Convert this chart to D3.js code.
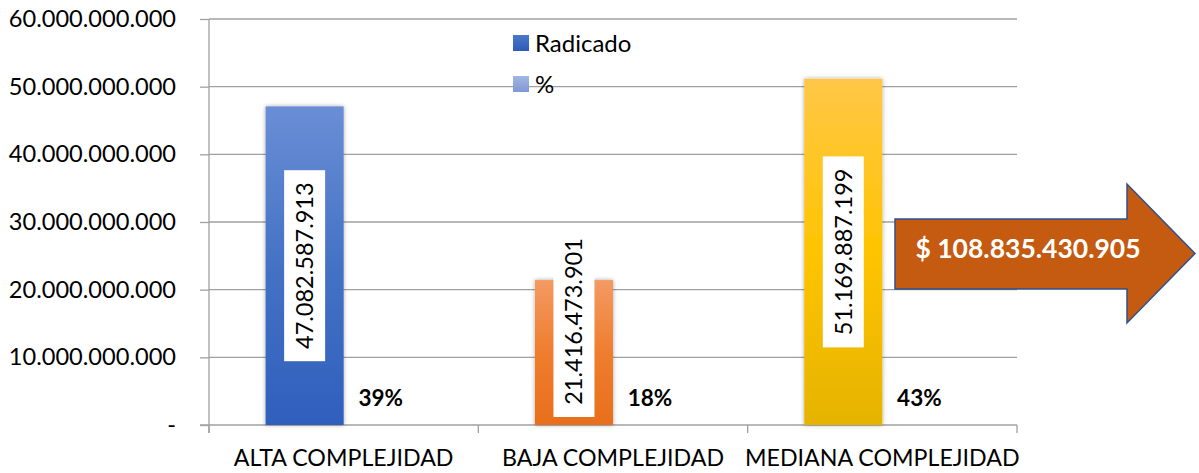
<!DOCTYPE html>
<html><head><meta charset="utf-8">
<script src="https://cdn.jsdelivr.net/npm/d3@7"></script>
<style>html,body{margin:0;padding:0;background:#fff;}svg{display:block;}</style>
</head><body>
<svg id="c" width="1199" height="473"></svg>
<script>
const categories = ["ALTA COMPLEJIDAD", "BAJA COMPLEJIDAD", "MEDIANA COMPLEJIDAD"];
const series = ["Radicado", "%"];
const radicado = [47082587913, 21416473901, 51169887199];
const percent = [0.39, 0.18, 0.43];
const yTicks = [0, 10e9, 20e9, 30e9, 40e9, 50e9, 60e9];
const totalLabel = 108835430905;

const FONT = "Lato, 'Open Sans', sans-serif";
const svg = d3.select("#c");
const W = 1199, H = 473;
const m = {left: 209, right: 182, top: 19, bottom: 48};
const x0 = d3.scaleBand().domain(categories).range([m.left, W - m.right]).padding(0);
const x1 = d3.scaleBand().domain(series).range([0, x0.bandwidth()]).paddingInner(0).paddingOuter(0.725);
const y = d3.scaleLinear().domain([0, 60e9]).range([H - m.bottom, m.top]);

const loc = d3.formatLocale({decimal: ",", thousands: ".", grouping: [3], currency: ["$ ", ""]});
const fmt = loc.format(",.0f");
const fmtPct = d3.format(".0%");

const defs = svg.append("defs");
const grads = [
  ["gBlue", "#6A8ED6", "#4472C4", "#2F5FBD"],
  ["gOrange", "#F49A62", "#EF7D2E", "#E86F1C"],
  ["gYellow", "#FFC747", "#FFC400", "#E5B300"]
];
grads.forEach(([id, a, b, c]) => {
  const g = defs.append("linearGradient").attr("id", id).attr("x1", 0).attr("y1", 0).attr("x2", 0).attr("y2", 1);
  g.append("stop").attr("offset", "0%").attr("stop-color", a);
  g.append("stop").attr("offset", "50%").attr("stop-color", b);
  g.append("stop").attr("offset", "100%").attr("stop-color", c);
});
const lg1 = defs.append("linearGradient").attr("id", "gLeg1").attr("x1", 0).attr("y1", 0).attr("x2", 0).attr("y2", 1);
lg1.append("stop").attr("offset", "0%").attr("stop-color", "#4B78C8");
lg1.append("stop").attr("offset", "100%").attr("stop-color", "#2F5BB8");
const lg2 = defs.append("linearGradient").attr("id", "gLeg2").attr("x1", 0).attr("y1", 0).attr("x2", 0).attr("y2", 1);
lg2.append("stop").attr("offset", "0%").attr("stop-color", "#A3B6E2");
lg2.append("stop").attr("offset", "100%").attr("stop-color", "#8099D4");
const sh = defs.append("filter").attr("id", "shadow").attr("x", "-20%").attr("y", "-5%").attr("width", "140%").attr("height", "110%");
sh.append("feDropShadow").attr("dx", 0).attr("dy", 0).attr("stdDeviation", 2).attr("flood-color", "#000").attr("flood-opacity", 0.35);

// y axis ticks + labels
const gy = svg.append("g").attr("transform", `translate(${m.left},0)`)
  .call(d3.axisLeft(y).tickValues(yTicks).tickSize(9).tickFormat(d => d === 0 ? "-" : fmt(d)).tickPadding(24));
gy.select(".domain").remove();
gy.selectAll(".tick line").attr("stroke", "#A0A0A0").attr("stroke-width", 1.3);
gy.selectAll(".tick text").attr("font-family", FONT).attr("font-size", 23.6).attr("fill", "#000");
svg.append("g").selectAll("line").data(yTicks.filter(d => d > 0)).join("line")
  .attr("x1", m.left).attr("x2", W - m.right).attr("y1", d => y(d)).attr("y2", d => y(d))
  .attr("stroke", "#A0A0A0").attr("stroke-width", 1.3);
svg.append("line").attr("x1", m.left).attr("x2", m.left).attr("y1", y(60e9)).attr("y2", y(0) + 8)
  .attr("stroke", "#A0A0A0").attr("stroke-width", 1.3);
// x axis
const gx = svg.append("g").attr("transform", `translate(0,${y(0)})`)
  .call(d3.axisBottom(x0).tickSize(0).tickPadding(25));
gx.select(".domain").attr("stroke", "#A0A0A0").attr("stroke-width", 1.3).attr("d", `M${m.left - 9},0H${W - m.right}`);
gx.selectAll(".tick text").attr("font-family", FONT).attr("font-size", 23.2).attr("fill", "#000");
svg.append("g").selectAll("line").data(categories.map(c => x0(c) + x0.bandwidth()).concat([m.left])).join("line")
  .attr("x1", d => d).attr("x2", d => d).attr("y1", y(0)).attr("y2", y(0) + 8)
  .attr("stroke", "#A0A0A0").attr("stroke-width", 1.3);

// bars
const fills = ["url(#gBlue)", "url(#gOrange)", "url(#gYellow)"];
const bars = categories.map((c, i) => ({c, i, v: radicado[i], p: percent[i]}));
svg.append("g").selectAll("rect").data(bars).join("rect")
  .attr("x", d => x0(d.c) + x1("Radicado")).attr("width", x1.bandwidth())
  .attr("y", d => y(d.v)).attr("height", d => y(0) - y(d.v))
  .attr("fill", d => fills[d.i]).attr("filter", "url(#shadow)");
svg.append("g").selectAll("rect").data(bars).join("rect")
  .attr("x", d => x0(d.c) + x1("%")).attr("width", x1.bandwidth())
  .attr("y", d => y(d.p)).attr("height", d => y(0) - y(d.p))
  .attr("fill", "#8EA9DB");

// value labels
const boxW = 41, boxH = 191;
const lab = svg.append("g").selectAll("g").data(bars).join("g")
  .attr("transform", d => {
    const cx = x0(d.c) + x1("Radicado") + x1.bandwidth() / 2;
    const mid = (y(d.v) + y(0)) / 2;
    const cy = Math.min(mid, y(0) - 8 - boxH / 2);
    return `translate(${cx},${cy})`;
  });
lab.append("rect").attr("x", -boxW / 2).attr("y", -boxH / 2).attr("width", boxW).attr("height", boxH).attr("fill", "#fff");
lab.append("text").attr("transform", "rotate(-90)").attr("text-anchor", "middle").attr("dy", "0.36em")
  .attr("font-family", FONT).attr("font-size", 23.5).attr("fill", "#000").text(d => fmt(d.v));

// percent labels
svg.append("g").selectAll("text").data(bars).join("text")
  .attr("x", d => x0(d.c) + x1("%") + x1.bandwidth() / 2 - 2)
  .attr("y", d => y(d.p) - 19).attr("text-anchor", "middle")
  .attr("font-family", FONT).attr("font-weight", "bold").attr("font-size", 22.5).attr("fill", "#000")
  .text(d => fmtPct(d.p));

// legend
const leg = svg.append("g").attr("transform", "translate(513,35)");
series.forEach((s, i) => {
  const g = leg.append("g").attr("transform", `translate(0,${i * 41})`);
  g.append("rect").attr("width", 16).attr("height", 16).attr("fill", i === 0 ? "url(#gLeg1)" : "url(#gLeg2)");
  g.append("text").attr("x", 22).attr("y", 8).attr("dy", "0.36em").attr("font-family", FONT)
    .attr("font-size", 24).attr("fill", "#000").text(s);
});

// arrow
const ax = 895, ay1 = 219, ay2 = 289, hx = 1127, hy1 = 184, hy2 = 323, tx = 1195;
svg.append("path")
  .attr("d", `M${ax},${ay1}H${hx}V${hy1}L${tx},${(hy1 + hy2) / 2}L${hx},${hy2}V${ay2}H${ax}Z`)
  .attr("fill", "#C55A11").attr("stroke", "#2F528F").attr("stroke-width", 1.5);
svg.append("text").attr("x", 1028).attr("y", 248).attr("dy", "0.36em").attr("text-anchor", "middle")
  .attr("font-family", FONT).attr("font-weight", "bold").attr("font-size", 26.5).attr("fill", "#fff")
  .text(loc.format("$,.0f")(totalLabel));
</script>
</body></html>
